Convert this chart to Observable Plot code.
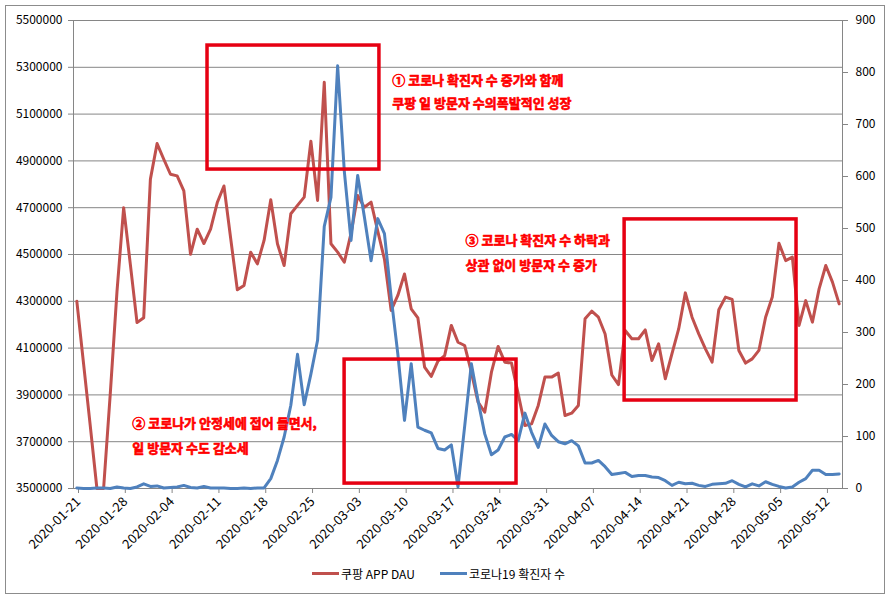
<!DOCTYPE html>
<html>
<head>
<meta charset="utf-8">
<script src="https://cdn.jsdelivr.net/npm/d3@7"></script>
<script src="https://cdn.jsdelivr.net/npm/@observablehq/plot@0.6"></script>
<style>
  html, body { margin: 0; padding: 0; background: #fff; }
  #wrap { position: relative; width: 892px; height: 600px; font-family: "Noto Sans CJK KR", "Noto Sans", sans-serif; }
  #border { position: absolute; left: 5px; top: 5px; width: 878px; height: 587px; border: 1px solid #8c8c8c; pointer-events: none; }
  #legend { position: absolute; top: 563px; left: 0; width: 892px; font-size: 12px; color: #000; }
  .item { position: absolute; top: 0; display: flex; align-items: center; height: 20px; }
  .sw { display: inline-block; width: 27px; height: 3px; margin-right: 2px; }
</style>
</head>
<body>
<div id="wrap">
  <div id="chart"></div>
  <div id="legend"></div>
  <div id="border"></div>
</div>
<script>
// ---- data ----
const firstDay = "2020-01-21";
const dayAfterLast = "2020-05-15";
const seriesNames = ["쿠팡 APP DAU", "코로나19 확진자 수"];
const dau = [
  4300000, 4035000, 3770000, 3500000, 3500000, 3905000, 4340000, 4700000, 4458000, 4209000,
  4230000, 4822000, 4974000, 4907000, 4843000, 4836000, 4772000, 4501000, 4608000, 4547000,
  4608000, 4722000, 4793000, 4570000, 4349000, 4368000, 4510000, 4460000, 4560000, 4734000,
  4546000, 4453000, 4674000, 4710000, 4745000, 4984000, 4731000, 5236000, 4546000, 4510000,
  4467000, 4590000, 4752000, 4702000, 4724000, 4600000, 4480000, 4261000, 4325000, 4417000,
  4268000, 4229000, 4019000, 3979000, 4044000, 4068000, 4197000, 4125000, 4111000, 3997000,
  3869000, 3826000, 3997000, 4107000, 4040000, 4036000, 3905000, 3769000, 3776000, 3855000,
  3976000, 3976000, 3993000, 3812000, 3822000, 3855000, 4225000, 4258000, 4232000, 4160000,
  3985000, 3944000, 4175000, 4140000, 4140000, 4178000, 4047000, 4118000, 3969000, 4076000,
  4182000, 4336000, 4232000, 4161000, 4097000, 4040000, 4264000, 4318000, 4308000, 4090000,
  4036000, 4054000, 4090000, 4232000, 4318000, 4548000, 4474000, 4489000, 4197000, 4303000,
  4211000, 4353000, 4453000, 4382000, 4289000
];
const cases = [
  1, 0, 0, 1, 1, 0, 3, 1, 0, 3,
  9, 4, 5, 1, 2, 3, 6, 2, 1, 4,
  1, 1, 1, 0, 0, 1, 0, 1, 1, 19,
  54, 99, 160, 258, 161, 220, 285, 504, 560, 813,
  610, 477, 602, 522, 438, 519, 490, 368, 259, 131,
  240, 118, 112, 107, 77, 74, 84, 3, 120, 240,
  169, 105, 65, 74, 99, 104, 92, 145, 108, 79,
  124, 102, 90, 86, 92, 82, 49, 49, 54, 42,
  27, 29, 31, 23, 25, 25, 22, 21, 15, 6,
  12, 9, 10, 6, 4, 8, 9, 10, 15, 8,
  3, 9, 5, 13, 8, 4, 1, 3, 12, 19,
  35, 35, 27, 27, 28
];
const xTickLabels = [
  "2020-01-21", "2020-01-28", "2020-02-04", "2020-02-11", "2020-02-18", "2020-02-25",
  "2020-03-03", "2020-03-10", "2020-03-17", "2020-03-24", "2020-03-31", "2020-04-07",
  "2020-04-14", "2020-04-21", "2020-04-28", "2020-05-05", "2020-05-12"
];
const leftTicks = [3500000, 3700000, 3900000, 4100000, 4300000, 4500000, 4700000, 4900000, 5100000, 5300000, 5500000];
const rightTicks = [0, 100, 200, 300, 400, 500, 600, 700, 800, 900];

// annotation boxes (date range, left-axis value range)
const boxX1 = ["2020-02-10T01:00", "2020-03-01T13:00", "2020-04-12T10:00"];
const boxX2 = ["2020-03-06T18:00", "2020-03-27T06:00", "2020-05-08T03:00"];
const boxY1 = [4863000, 3521000, 3876000];
const boxY2 = [5393000, 4051000, 4650000];
// annotation texts (left edge date, left-axis value)
const noteText = [
  "① 코로나 확진자 수 증가와 함께", "쿠팡 일 방문자 수의폭발적인 성장",
  "② 코로나가 안정세에 접어 들면서,", "일 방문자 수도 감소세",
  "③ 코로나 확진자 수 하락과", "상관 없이 방문자 수 증가"
];
const noteX = ["2020-03-08T16:00", "2020-03-08T16:00", "2020-01-29T19:00", "2020-01-29T19:00", "2020-03-19T15:00", "2020-03-19T15:00"];
const noteY = [5243000, 5145000, 3778000, 3671000, 4560000, 4453000];

// ---- build ----
const yMin = leftTicks[0], yMax = leftTicks[leftTicks.length - 1];
const rMax = rightTicks[rightTicks.length - 1];
const toLeft = v => yMin + v * (yMax - yMin) / rMax;
const fromLeft = v => Math.round((v - yMin) * rMax / (yMax - yMin));

const days = d3.utcDay.range(new Date(firstDay), new Date(dayAfterLast));
const rows = days.map((d, i) => ({date: d3.utcHour.offset(d, 12), dau: dau[i], cases: cases[i]}));
const boxes = boxX1.map((x, i) => ({x1: new Date(x + "Z"), x2: new Date(boxX2[i] + "Z"), y1: boxY1[i], y2: boxY2[i]}));
const notes = noteText.map((t, i) => ({text: t, x: new Date(noteX[i] + "Z"), y: noteY[i]}));

const RED = "#C0504D", BLUE = "#4F81BD", GRID = "#868686", BOX = "#E60012";

const chart = Plot.plot({
  width: 892,
  height: 600,
  marginLeft: 73,
  marginRight: 50,
  marginTop: 20,
  marginBottom: 112,
  style: {fontFamily: '"Noto Sans CJK KR", "Noto Sans", sans-serif', fontSize: "12px", color: "#000", background: "transparent", overflow: "visible"},
  x: {type: "utc", domain: [new Date(firstDay), new Date(dayAfterLast)]},
  y: {domain: [yMin, yMax]},
  marks: [
    Plot.gridY(leftTicks, {stroke: GRID, strokeOpacity: 1, strokeWidth: 1}),
    Plot.frame({stroke: GRID, strokeWidth: 1}),
    Plot.axisY(leftTicks, {anchor: "left", label: null, tickSize: 5, tickPadding: 6, stroke: GRID, tickFormat: d => String(d)}),
    Plot.axisY(rightTicks.map(toLeft), {anchor: "right", label: null, tickSize: 5, tickPadding: 8, stroke: GRID, tickFormat: d => String(fromLeft(d))}),
    Plot.axisX(xTickLabels.map(s => new Date(s)), {anchor: "bottom", label: null, tickSize: 5, tickPadding: 6, tickRotate: -45, dx: 5, fontSize: 13, stroke: GRID, tickFormat: d3.utcFormat("%Y-%m-%d")}),
    Plot.lineY(rows, {x: "date", y: "dau", stroke: RED, strokeWidth: 3, strokeLinejoin: "round"}),
    Plot.lineY(rows, {x: "date", y: d => toLeft(d.cases), stroke: BLUE, strokeWidth: 3, strokeLinejoin: "round"}),
    Plot.rect(boxes, {x1: "x1", x2: "x2", y1: "y1", y2: "y2", fill: "none", stroke: BOX, strokeWidth: 3.5}),
    Plot.text(notes, {x: "x", y: "y", text: "text", textAnchor: "start", fill: "#FF0000", stroke: "#FF0000", strokeWidth: 0.6, fontWeight: "bold", fontSize: 13})
  ]
});
document.getElementById("chart").appendChild(chart);

// legend
const legend = document.getElementById("legend");
const legendLeft = [312, 440];
const colors = [RED, BLUE];
seriesNames.forEach((name, i) => {
  const item = document.createElement("div");
  item.className = "item";
  item.style.left = legendLeft[i] + "px";
  const sw = document.createElement("span");
  sw.className = "sw";
  sw.style.background = colors[i];
  item.appendChild(sw);
  item.appendChild(document.createTextNode(name));
  legend.appendChild(item);
});
</script>
</body>
</html>
